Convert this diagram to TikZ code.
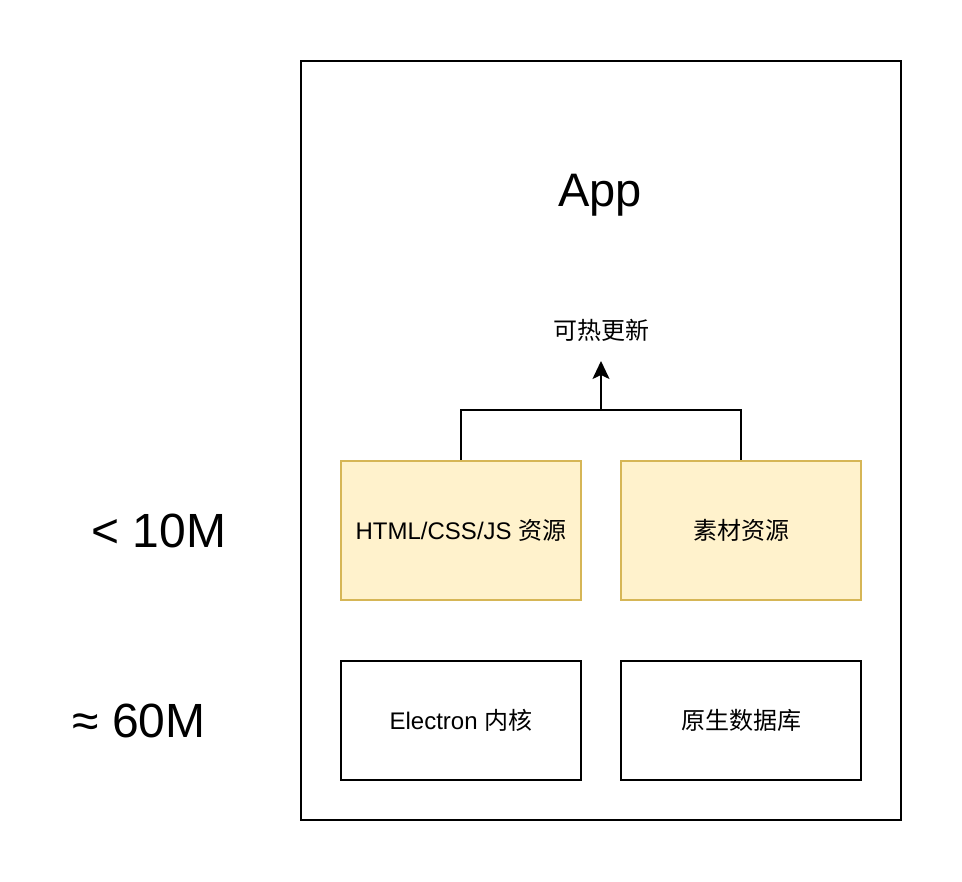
\documentclass[tikz,border=0pt]{standalone}
\usepackage{fontspec}
\setmainfont{Liberation Sans}
\newfontfamily\cjk{Noto Sans CJK SC}
\usetikzlibrary{arrows.meta}
\definecolor{yfill}{HTML}{FFF2CC}
\definecolor{ydraw}{HTML}{D6B656}
\begin{document}
\begin{tikzpicture}[x=1pt,y=-1pt,
  box/.style={draw=black,line width=2pt,minimum width=240pt,minimum height=119pt,inner sep=0pt,font=\fontsize{24}{28}\selectfont},
  ybox/.style={draw=ydraw,fill=yfill,line width=2pt,minimum width=240pt,minimum height=139pt,inner sep=0pt,font=\fontsize{24}{28}\selectfont},
  big/.style={inner sep=0pt,font=\fontsize{48}{54}\selectfont},
  conn/.style={line width=2pt}]
\useasboundingbox (0,0) rectangle (962,882);
\node[draw=black,line width=2pt,minimum width=600pt,minimum height=759pt,inner sep=0pt] (app) at (601,440.5) {};
\node[inner sep=0pt,font=\fontsize{47}{52}\selectfont] (title) at (600,195) {App};
\node[inner sep=0pt,font=\fontsize{24}{28}\selectfont\cjk] (hot) at (601,330) {可热更新};
\node[ybox] (h) at (461,530.5) {HTML/CSS/JS {\cjk 资源}};
\node[ybox] (m) at (741,530.5) {\cjk 素材资源};
\node[box] (e) at (461,720.5) {Electron {\cjk 内核}};
\node[box] (d) at (741,720.5) {\cjk 原生数据库};
\node[big] (l1) at (159,531) {< 10M};
\node[big] (l2) at (139,721) {≈ 60M};
\coordinate (j) at (601,410);
\coordinate (tip) at (601,361);
\draw[conn] (h.north) |- (j) -| (m.north);
\draw[conn,-{Stealth[length=18pt,width=17pt,inset=4pt]}] (j) -- (tip);
\end{tikzpicture}
\end{document}
